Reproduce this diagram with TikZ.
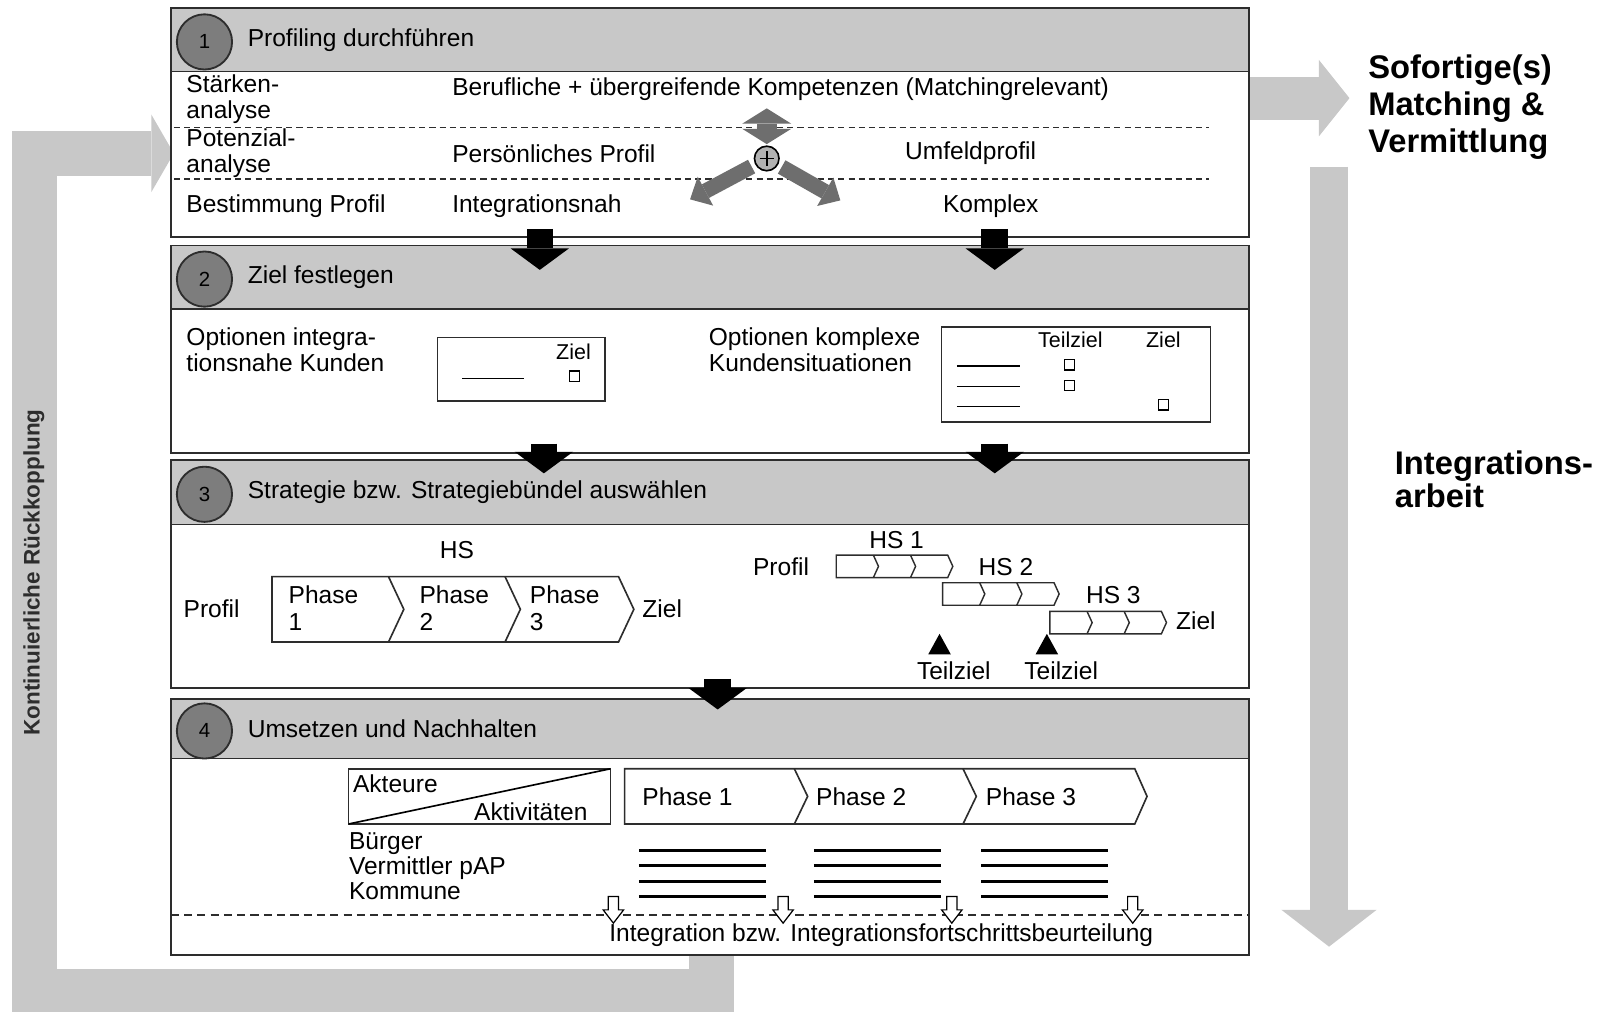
\documentclass[tikz,border=0pt]{standalone}
\usepackage{fontspec}
\setmainfont{Liberation Sans}
\usetikzlibrary{arrows.meta, positioning}
\definecolor{hdgray}{RGB}{200,200,200}
\definecolor{cgray}{RGB}{125,125,125}
\definecolor{agray}{RGB}{110,110,110}
\definecolor{fbgray}{RGB}{200,200,200}
\definecolor{lgray}{RGB}{45,45,45}

\begin{document}
\begin{tikzpicture}[x=0.5pt, y=-0.5pt,
    txt/.style={inner sep=0, anchor=west, align=left, font=\fontsize{12}{12.5}\selectfont},
    smalltxt/.style={inner sep=0, font=\fontsize{10.5}{12}\selectfont},
    big/.style={inner sep=0, anchor=west, align=left, font=\bfseries\fontsize{16}{18}\selectfont},
    num/.style={circle, draw=lgray, line width=0.9pt, fill=cgray, minimum size=27pt, inner sep=0, font=\fontsize{10}{10}\selectfont},
    panel/.style={draw=lgray, line width=0.8pt},
    sq/.style={draw, line width=0.6pt, minimum size=5pt, inner sep=0},
    dline/.style={lgray, line width=0.6pt, dash pattern=on 3pt off 2pt},
    blk/.style={line width=13pt, -{Triangle[width=28.5pt, length=10.5pt, line width=0pt]}}]
        \useasboundingbox (0,0) rectangle (1568,989);

        \coordinate (fb0) at (696,934);
        \coordinate (fb1) at (34,970);
        \coordinate (fb2) at (170,150);
        \draw[fbgray, line width=22pt, line join=miter, -{Triangle[width=38pt, length=11pt, line width=0pt]}] (fb0) |- (fb1) |- (fb2);
        \draw node[rotate=90, inner sep=0, text=lgray, font=\bfseries\fontsize{11}{11}\selectfont] (kr) at (33,560) {Kontinuierliche Rückkopplung};

        \coordinate (so0) at (1222,96);
        \coordinate (so1) at (1320,96);
        \draw[fbgray, line width=21pt, -{Triangle[width=37.5pt, length=15pt, line width=0pt]}] (so0) -- (so1);
        \coordinate (ia0) at (1300,163);
        \coordinate (ia1) at (1300,926);
        \draw[fbgray, line width=19pt, -{Triangle[width=46.5pt, length=18pt, line width=0pt]}] (ia0) -- (ia1);
        \draw node[big] (smv) at (1338,105) {Sofortige(s)\\Matching \&\\Vermittlung};
        \draw node[big, font=\bfseries\fontsize{16}{16}\selectfont] (iab) at (1364,469) {Integrations-\\arbeit};

        \foreach \i/\ya/\yb/\yc/\ttl in {1/8/70/232/Profiling durchführen, 2/240/302/443/Ziel festlegen, 3/450/513/673/Strategie bzw. Strategiebündel auswählen, 4/684/742/934/Umsetzen und Nachhalten}
        {
        \draw[panel, fill=white] (167,\ya) rectangle (1222,\yc);
        \draw[panel, fill=hdgray] (167,\ya) rectangle (1222,\yb);
        \draw node[num] (c\i) at (200,{(\ya+\yb)/2+2}) {\i};
        \draw node[txt] (h\i) at (242,{(\ya+\yb)/2}) {\ttl};
        }

        \draw[dline] (170,125) -- (1183,125);
        \draw[dline] (170,175) -- (1183,175);
        \draw node[txt] (sa) at (182,97) {Stärken-\\analyse};
        \draw node[txt] (pa) at (182,150) {Potenzial-\\analyse};
        \draw node[txt] (bp) at (182,202) {Bestimmung Profil};
        \draw node[txt] (bk) at (442,87) {Berufliche + übergreifende Kompetenzen (Matchingrelevant)};
        \draw node[txt] (pp) at (442,150) {Persönliches Profil};
        \draw node[txt] (inh) at (442,202) {Integrationsnah};
        \draw node[txt] (uf) at (885,150) {Umfeldprofil};
        \draw node[txt] (kx) at (922,202) {Komplex};

        \coordinate (da1) at (750,106);
        \coordinate (da2) at (750,141);
        \coordinate (la) at (675,195);
        \coordinate (ra) at (822,196);
        \draw[agray, line width=10pt, {Triangle[width=24pt, length=7.5pt, line width=0pt]}-{Triangle[width=24pt, length=7.5pt, line width=0pt]}] (da1) -- (da2);
        \draw node[circle, draw=black, line width=0.8pt, fill=gray!60, minimum size=12pt, inner sep=0] (plus) at (750,155) {};
        \draw[line width=0.9pt] (plus.center) ++(-7,0) -- ++(14,0) (plus.center) ++(0,-7) -- ++(0,14);
        \draw[agray, line width=7.5pt, shorten <=2pt, -{Triangle[width=16pt, length=8.5pt, line width=0pt]}] (plus) -- (la);
        \draw[agray, line width=7.5pt, shorten <=2pt, -{Triangle[width=16pt, length=8.5pt, line width=0pt]}] (plus) -- (ra);

        \draw node[txt] (oi) at (182,342) {Optionen integra-\\tionsnahe Kunden};
        \draw[panel] (428,330) rectangle (592,392);
        \draw node[smalltxt] (z1) at (561,344) {Ziel};
        \draw[line width=0.5pt] (452,370) -- (513,370);
        \draw node[sq] (q1) at (562,368) {};
        \draw node[txt] (ok) at (693,342) {Optionen komplexe\\Kundensituationen};
        \draw[panel] (921,320) rectangle (1184,413);
        \draw node[smalltxt] (tz) at (1047,332) {Teilziel};
        \draw node[smalltxt] (z2) at (1138,332) {Ziel};
        \foreach \y in {358,378,398}
        \draw[line width=0.5pt] (936,\y) -- (998,\y);
        \foreach \x/\y [count=\k] in {1046/357, 1046/377, 1138/396}
        \draw node[sq] (q2\k) at (\x,\y) {};

        \draw node[txt, anchor=center] (hs) at (447,538) {HS};
        \draw node[txt, anchor=center] (pf1) at (207,595) {Profil};
        \draw[panel] (266,564) -- (605,564) -- (620,596) -- (605,628) -- (266,628) -- cycle;
        \foreach \x in {380,494}
        \draw[panel] (\x,564) -- ({\x+15},596) -- (\x,628);
        \foreach \x/\n in {282/1, 410/2, 518/3}
        \draw node[txt, font=\fontsize{12}{13}\selectfont] (ph\n) at (\x,595) {Phase\\\n};
        \draw node[txt] (zl1) at (628,595) {Ziel};

        \foreach \x/\y in {818/543, 922/570, 1027/598}
        {
        \draw[panel, line width=0.7pt] (\x,\y) -- ({\x+109},\y) -- ({\x+114},{\y+11}) -- ({\x+109},{\y+22}) -- (\x,{\y+22}) -- cycle;
        \foreach \k in {1,2}
        \draw[panel, line width=0.7pt] ({\x+36.3*\k},\y) -- ({\x+36.3*\k+5},{\y+11}) -- ({\x+36.3*\k},{\y+22});
        }
        \draw node[txt, anchor=center] (hs1) at (877,528) {HS 1};
        \draw node[txt, anchor=center] (hs2) at (984,555) {HS 2};
        \draw node[txt, anchor=center] (hs3) at (1089,582) {HS 3};
        \draw node[txt, anchor=center] (pf2) at (764,554) {Profil};
        \draw node[txt] (zl2) at (1150,607) {Ziel};
        \foreach \x [count=\k] in {919,1024}
        {
        \fill ({\x-11},640) -- (\x,620) -- ({\x+11},640) -- cycle;
        \draw node[txt, anchor=center] (tz\k) at ({\x+14},656) {Teilziel};
        }

        \draw[panel] (341,752) rectangle (597,806);
        \draw[line width=0.8pt] (341,806) -- (597,752);
        \draw node[txt] (ak) at (345,767) {Akteure};
        \draw node[txt, anchor=east] (av) at (575,794) {Aktivitäten};
        \draw[panel] (611,752) -- (1110,752) -- (1122,779) -- (1110,806) -- (611,806) -- cycle;
        \foreach \x in {777,942}
        \draw[panel] (\x,752) -- ({\x+13},779) -- (\x,806);
        \foreach \x/\n in {628/1, 798/2, 964/3}
        \draw node[txt] (pz\n) at (\x,779) {Phase \n};
        \draw node[txt, font=\fontsize{12}{12.3}\selectfont] (bvk) at (341,847) {Bürger\\Vermittler pAP\\Kommune};
        \foreach \x in {625,796,960}
        \foreach \y in {832,847,862,877}
        \draw[line width=1.5pt] (\x,\y) -- ({\x+124},\y);
        \draw[lgray, line width=0.7pt, dash pattern=on 4pt off 2.5pt] (167,895) -- (1222,895);
        \foreach \x in {600,766,931,1108}
        \draw[fill=white, line width=0.6pt] ({\x-5},877) -- ({\x+5},877) -- ({\x+5},890) -- ({\x+10},890) -- (\x,903) -- ({\x-10},890) -- ({\x-5},890) -- cycle;
        \draw node[txt, anchor=center] (ib) at (862,915) {Integration bzw. Integrationsfortschrittsbeurteilung};

        \foreach \x/\ya/\yb [count=\k] in {528/224/264, 973/224/264, 532/434/463, 973/434/463, 702/664/694}
        {
        \coordinate (s\k) at (\x,\ya);
        \coordinate (e\k) at (\x,\yb);
        \draw[blk] (s\k) -- (e\k);
        }
      \end{tikzpicture}
\end{document}
